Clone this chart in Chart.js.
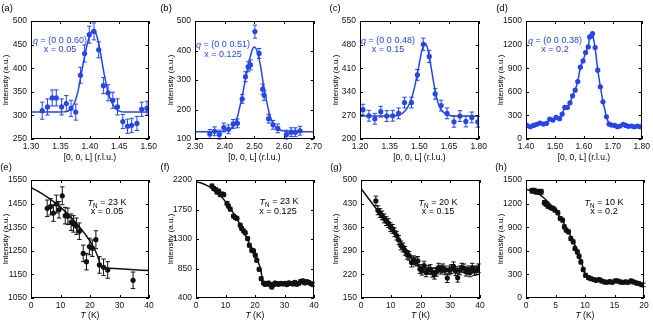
<!DOCTYPE html>
<html>
<head>
<meta charset="utf-8">
<script src="https://cdn.jsdelivr.net/npm/chart.js@4.4.1/dist/chart.umd.min.js"></script>
<style>
  body { margin: 0; background: #fff; width: 653px; height: 324px; overflow: hidden; position: relative; }
  canvas { position: absolute; }
</style>
</head>
<body>
<script>
// (a) x = 0.05, q = (0 0 0.60)
const aL = [1.319, 1.328, 1.336, 1.343, 1.352, 1.360, 1.368, 1.376, 1.384, 1.391, 1.399, 1.407, 1.415, 1.423, 1.431, 1.439, 1.447, 1.456, 1.464, 1.471, 1.480, 1.488, 1.497];
const aI = [310, 318, 337, 337, 318, 325, 315, 307, 385, 431, 471, 478, 439, 363, 348, 332, 318, 287, 277, 279, 283, 313, 315];
const aErr = [18, 17, 17, 17, 17, 17, 17, 17, 17, 18, 18, 18, 17, 17, 17, 17, 17, 15, 15, 15, 15, 15, 15];
const aFitL = [1.30, 1.35, 1.36, 1.365, 1.37, 1.375, 1.38, 1.385, 1.39, 1.395, 1.40, 1.405, 1.41, 1.415, 1.42, 1.425, 1.43, 1.435, 1.44, 1.445, 1.45, 1.46, 1.50];
const aFitI = [307, 307, 308, 311, 318, 330, 352, 385, 418, 448, 470, 481, 475, 452, 418, 383, 354, 334, 321, 313, 309, 307, 307];

// (b) x = 0.125, q = (0 0 0.51)
const bL = [2.350, 2.366, 2.382, 2.397, 2.413, 2.429, 2.443, 2.459, 2.470, 2.479, 2.487, 2.502, 2.516, 2.528, 2.533, 2.548, 2.563, 2.579, 2.608, 2.624, 2.638, 2.654];
const bI = [117, 126, 115, 139, 133, 151, 153, 236, 311, 345, 351, 464, 390, 269, 248, 169, 148, 136, 115, 123, 123, 128];
const bErr = [15, 15, 15, 15, 15, 15, 15, 15, 17, 17, 17, 22, 17, 17, 17, 15, 15, 15, 15, 15, 15, 15];
const bFitL = [2.30, 2.38, 2.40, 2.42, 2.43, 2.44, 2.45, 2.46, 2.47, 2.48, 2.49, 2.495, 2.50, 2.51, 2.52, 2.53, 2.54, 2.55, 2.56, 2.57, 2.58, 2.60, 2.62, 2.70];
const bFitI = [125, 125, 127, 135, 145, 165, 205, 250, 302, 352, 393, 408, 412, 395, 352, 288, 235, 188, 158, 142, 133, 127, 125, 125];

// (c) x = 0.15, q = (0 0 0.48)
const cL = [1.215, 1.245, 1.275, 1.305, 1.335, 1.365, 1.395, 1.425, 1.460, 1.490, 1.520, 1.550, 1.580, 1.610, 1.640, 1.675, 1.705, 1.735, 1.765, 1.795];
const cI = [287, 269, 260, 281, 268, 269, 276, 308, 308, 390, 481, 445, 334, 299, 276, 251, 268, 252, 264, 251];
const cErr = [16, 16, 16, 16, 16, 16, 16, 16, 16, 16, 18, 18, 16, 16, 16, 16, 16, 16, 16, 16];
const cFitL = [1.20, 1.38, 1.40, 1.42, 1.44, 1.46, 1.48, 1.50, 1.51, 1.52, 1.53, 1.54, 1.55, 1.56, 1.58, 1.60, 1.62, 1.64, 1.66, 1.80];
const cFitI = [268, 269, 272, 279, 293, 320, 365, 425, 455, 476, 483, 472, 445, 410, 342, 298, 280, 272, 269, 268];

// (d) x = 0.2, q = (0 0 0.38)
const dL = [1.403, 1.415, 1.426, 1.437, 1.448, 1.460, 1.471, 1.482, 1.493, 1.504, 1.516, 1.525, 1.534, 1.543, 1.552, 1.561, 1.570, 1.579, 1.588, 1.597, 1.606, 1.615, 1.620, 1.626, 1.630, 1.639, 1.648, 1.657, 1.666, 1.678, 1.687, 1.696, 1.707, 1.716, 1.725, 1.736, 1.745, 1.754, 1.765, 1.774, 1.785, 1.794];
const dI = [173, 156, 173, 186, 203, 190, 199, 253, 241, 275, 258, 317, 401, 401, 460, 549, 621, 731, 913, 993, 1098, 1170, 1297, 1310, 1340, 1162, 875, 663, 473, 283, 190, 177, 173, 156, 165, 186, 173, 161, 165, 156, 165, 156];

// (e) TN = 23 K, x = 0.05
const eT = [5.5, 6.6, 7.6, 8.6, 9.5, 10.6, 11.6, 12.5, 13.6, 14.4, 15.4, 16.4, 17.7, 18.8, 19.8, 20.8, 22.0, 23.2, 24.6, 26.0, 34.6];
const eI = [1430, 1437, 1410, 1448, 1424, 1483, 1399, 1396, 1371, 1364, 1354, 1333, 1239, 1204, 1268, 1261, 1297, 1190, 1180, 1169, 1125];
const eErr = [35, 35, 35, 38, 35, 38, 35, 35, 35, 35, 35, 35, 35, 35, 35, 35, 38, 35, 35, 35, 35];
const eFitT = [0, 5, 10, 15, 20, 22, 23, 23.5, 25, 30, 35, 40];
const eFitI = [1519, 1482, 1435, 1372, 1291, 1245, 1212, 1187, 1178, 1174, 1170, 1166];

// (f) TN = 23 K, x = 0.125
const fT = [5.4, 6.0, 6.6, 7.1, 7.7, 8.2, 8.9, 9.4, 10.5, 11.0, 11.6, 12.7, 13.3, 13.9, 15.0, 15.5, 16.1, 16.7, 17.5, 18.1, 18.9, 19.5, 20.1, 20.6, 21.4, 22.1, 22.9, 23.4, 24.0, 24.6, 25.1, 25.7, 26.3, 26.8, 27.4, 28.0, 28.8, 29.5, 30.2, 30.8, 31.5, 32.2, 32.9, 33.5, 34.2, 34.9, 35.5, 36.2, 36.9, 37.5, 38.2, 38.9, 39.6];
const fI = [2108, 2072, 2057, 2016, 2031, 1976, 1986, 1976, 1843, 1802, 1756, 1649, 1629, 1613, 1511, 1460, 1424, 1394, 1307, 1205, 1129, 1118, 1052, 976, 838, 695, 629, 608, 618, 629, 603, 567, 603, 629, 618, 610, 625, 615, 625, 605, 630, 620, 615, 640, 610, 625, 655, 660, 630, 650, 640, 620, 605];
const fErr = [30, 30, 28, 28, 28, 28, 28, 28, 28, 28, 28, 28, 28, 28, 28, 28, 28, 28, 28, 28, 28, 28, 28, 28, 28, 28, 25, 25, 25, 25, 25, 25, 25, 25, 25, 25, 25, 25, 25, 25, 25, 25, 25, 25, 25, 25, 25, 25, 25, 25, 25, 25, 25];
const fFitT = [0, 2, 4, 6, 8, 10, 12, 14, 16, 18, 20, 21, 22, 22.5, 23, 24, 30, 40];
const fFitI = [2175, 2150, 2110, 2055, 1975, 1870, 1745, 1595, 1425, 1240, 1065, 960, 820, 690, 635, 625, 625, 620];

// (g) TN = 20 K, x = 0.15
const gT = [5.0, 5.7, 6.4, 7.1, 7.8, 8.5, 9.2, 9.9, 10.6, 11.3, 12.0, 12.7, 13.4, 14.1, 14.8, 15.5, 16.2, 17.0, 17.7, 18.4, 19.1, 19.8, 20.5, 21.2, 21.9, 22.6, 23.3, 24.0, 24.7, 25.4, 26.1, 26.8, 27.5, 28.2, 29.0, 29.7, 30.4, 31.1, 31.8, 32.5, 33.2, 33.9, 34.6, 35.3, 36.0, 36.7, 37.4, 38.1, 38.8, 39.5];
const gI = [438, 410, 402, 395, 386, 378, 372, 360, 355, 345, 335, 322, 306, 300, 290, 278, 275, 255, 262, 258, 260, 236, 231, 246, 226, 233, 236, 225, 219, 228, 240, 234, 238, 232, 209, 232, 236, 244, 230, 210, 232, 240, 238, 228, 232, 226, 240, 230, 232, 238];
const gErr = [14, 13, 13, 13, 13, 13, 13, 13, 13, 13, 13, 13, 13, 13, 13, 13, 13, 13, 13, 13, 13, 13, 13, 13, 13, 13, 13, 13, 13, 13, 13, 13, 13, 13, 13, 13, 13, 13, 13, 13, 13, 13, 13, 13, 13, 13, 13, 13, 13, 13];
const gFitT = [0, 5, 10, 15, 18, 19.5, 20.5, 30, 40];
const gFitI = [475, 416, 357, 297, 261, 243, 238, 238, 238];

// (h) TN = 10 K, x = 0.2
const hT = [1.0, 1.4, 1.7, 2.1, 2.6, 3.1, 3.4, 3.7, 4.2, 4.6, 4.9, 5.4, 5.8, 6.2, 6.5, 6.8, 7.2, 7.6, 8.0, 8.3, 8.7, 9.0, 9.3, 9.7, 10.1, 10.6, 11.0, 11.5, 11.9, 12.4, 12.8, 13.3, 13.7, 14.2, 14.6, 15.1, 15.5, 16.0, 16.4, 16.9, 17.3, 17.8, 18.2, 18.7, 19.1, 19.6, 19.9];
const hI = [1364, 1364, 1351, 1351, 1351, 1211, 1194, 1169, 1147, 1139, 1118, 1084, 1011, 990, 905, 863, 841, 756, 714, 629, 586, 531, 459, 361, 289, 259, 246, 234, 225, 234, 217, 204, 200, 208, 200, 217, 217, 204, 200, 204, 200, 217, 204, 191, 183, 170, 166];
const hErr = [30, 30, 30, 30, 30, 28, 28, 28, 25, 25, 25, 25, 25, 25, 25, 25, 25, 25, 25, 25, 25, 25, 25, 25, 25, 22, 22, 22, 22, 22, 22, 22, 22, 22, 22, 22, 22, 22, 22, 22, 22, 22, 22, 22, 22, 22, 22];
const hFitT = [0, 1, 2, 3, 4, 5, 6, 7, 8, 9, 9.5, 10, 10.5, 11, 12, 14, 16, 18, 20];
const hFitI = [1380, 1365, 1330, 1275, 1200, 1110, 1000, 870, 720, 540, 430, 310, 255, 238, 222, 205, 205, 195, 165];

const FONT = "'Liberation Sans', Arial, sans-serif";
const BLUE = 'rgb(36,70,235)';
const BLACK = '#111';
Chart.defaults.font.family = FONT;

function pts(xs, ys) {
  return xs.map((x, i) => ({ x: x, y: ys[i] }));
}

// text made of pieces (italic letters, subscripts), centred on cx
function rich(ctx, parts, cx, cy, size, color) {
  let w = 0;
  const fontOf = p => (p.it ? 'italic ' : '') + (p.sub ? size * 0.7 : size) + 'px ' + FONT;
  parts.forEach(p => { ctx.font = fontOf(p); p.w = ctx.measureText(p.t).width; w += p.w; });
  let x = cx - w / 2;
  ctx.fillStyle = color;
  ctx.textBaseline = 'middle';
  ctx.textAlign = 'left';
  parts.forEach(p => {
    ctx.font = fontOf(p);
    ctx.fillText(p.t, x, cy + (p.sub ? size * 0.32 : 0));
    x += p.w;
  });
}

function marks(xs, ys, err, color) {
  return { data: pts(xs, ys), err: err, showLine: false, pointRadius: 2.6, pointHoverRadius: 2.6,
           pointBorderWidth: 0, pointBackgroundColor: color, borderColor: color, backgroundColor: color };
}
function fit(xs, ys, color) {
  return { data: pts(xs, ys), showLine: true, pointRadius: 0, borderWidth: 1.5, borderColor: color,
           cubicInterpolationMode: 'monotone', fill: false };
}

function makePanel(p) {
  const canvas = document.createElement('canvas');
  canvas.width = p.w; canvas.height = p.h;
  canvas.style.left = p.left + 'px'; canvas.style.top = p.top + 'px';
  document.body.appendChild(canvas);

  const frame = {
    id: 'frame',
    beforeDatasetsDraw(chart) {
      const ctx = chart.ctx, xs = chart.scales.x, ys = chart.scales.y;
      ctx.save();
      ctx.lineWidth = 1;
      chart.data.datasets.forEach(ds => {
        if (!ds.err) return;
        ctx.strokeStyle = ds.borderColor;
        ctx.beginPath();
        ds.data.forEach((d, i) => {
          const px = xs.getPixelForValue(d.x);
          const t = ys.getPixelForValue(d.y + ds.err[i]);
          const b = ys.getPixelForValue(d.y - ds.err[i]);
          ctx.moveTo(px, t); ctx.lineTo(px, b);
          ctx.moveTo(px - 2.2, t); ctx.lineTo(px + 2.2, t);
          ctx.moveTo(px - 2.2, b); ctx.lineTo(px + 2.2, b);
        });
        ctx.stroke();
      });
      ctx.restore();
    },
    afterDraw(chart) {
      const ctx = chart.ctx, a = chart.chartArea, xs = chart.scales.x, ys = chart.scales.y;
      ctx.save();
      ctx.strokeStyle = '#000';
      ctx.lineWidth = 1;
      ctx.strokeRect(Math.round(a.left) + 0.5, Math.round(a.top) + 0.5,
                     Math.round(a.right - a.left) - 1, Math.round(a.bottom - a.top) - 1);
      ctx.beginPath();
      xs.ticks.forEach(t => {
        const x = Math.round(xs.getPixelForValue(t.value)) + 0.5;
        ctx.moveTo(x, a.bottom); ctx.lineTo(x, a.bottom - 3);
        ctx.moveTo(x, a.top); ctx.lineTo(x, a.top + 3);
      });
      ys.ticks.forEach(t => {
        const y = Math.round(ys.getPixelForValue(t.value)) + 0.5;
        ctx.moveTo(a.left, y); ctx.lineTo(a.left + 3, y);
        ctx.moveTo(a.right, y); ctx.lineTo(a.right - 3, y);
      });
      ctx.stroke();
      // panel letter
      rich(ctx, [{ t: p.letter }], p.letX - p.left, p.letY - p.top, 9.5, '#000');
      // x-axis title
      rich(ctx, p.xTitle, (a.left + a.right) / 2, p.xTitleY - p.top, 8.5, '#000');
      // notes inside the frame
      p.notes.forEach(n => rich(ctx, n.parts, n.cx - p.left, n.cy - p.top, 9, p.noteColor));
      ctx.restore();
    }
  };

  const tickFont = { size: 8.5, family: FONT };
  new Chart(canvas, {
    type: 'scatter',
    data: { datasets: p.datasets },
    options: {
      responsive: false,
      animation: false,
      events: [],
      layout: { padding: { top: p.plotT - p.top, right: p.left + p.w - p.plotR, left: 0, bottom: 0 } },
      plugins: { legend: { display: false }, tooltip: { enabled: false } },
      scales: {
        x: {
          type: 'linear', min: p.x[0], max: p.x[1],
          ticks: { stepSize: p.x[2], color: '#111', font: tickFont, padding: 3, maxRotation: 0,
                   callback: v => v.toFixed(p.x[3]) },
          grid: { display: false, drawTicks: false },
          border: { display: false },
          afterFit: s => { s.height = p.top + p.h - p.plotB; }
        },
        y: {
          type: 'linear', min: p.y[0], max: p.y[1],
          ticks: { stepSize: p.y[2], color: '#111', font: tickFont, padding: 4,
                   callback: v => String(v) },
          grid: { display: false, drawTicks: false },
          border: { display: false },
          title: { display: true, text: 'Intensity (a.u.)', color: '#000',
                   font: { size: 8, family: FONT }, padding: { top: p.yTitlePad, bottom: 0 } },
          afterFit: s => { s.width = p.plotL - p.left; }
        }
      }
    },
    plugins: [frame]
  });
}

const qTitle = [{ t: '[0, 0, L] (r.l.u.)' }];
const tTitle = [{ t: 'T', it: true }, { t: ' (K)' }];
const qNote = (s) => [{ t: 'q', it: true }, { t: ' = (' + s + ')' }];
const tnNote = (s) => [{ t: 'T', it: true }, { t: 'N', sub: true }, { t: ' = ' + s + ' K' }];

const topRow = { top: 0, h: 166, plotT: 21, plotB: 139, xTitle: qTitle, xTitleY: 158, noteColor: BLUE, letY: 8 };
const botRow = { top: 160, h: 164, plotT: 180, plotB: 298, xTitle: tTitle, xTitleY: 316, noteColor: '#000', letY: 167 };

makePanel(Object.assign({}, topRow, {
  left: 0, w: 160, plotL: 31, plotR: 149, yTitlePad: 1, letter: '(a)', letX: 7,
  x: [1.30, 1.50, 0.05, 2], y: [250, 500, 50],
  datasets: [marks(aL, aI, aErr, BLUE), fit(aFitL, aFitI, BLUE)],
  notes: [{ parts: qNote('0 0 0.60'), cx: 60, cy: 41 }, { parts: [{ t: 'x = 0.05' }], cx: 60, cy: 50 }]
}));
makePanel(Object.assign({}, topRow, {
  left: 160, w: 165, plotL: 195, plotR: 314, yTitlePad: 6, letter: '(b)', letX: 166,
  x: [2.30, 2.70, 0.1, 2], y: [100, 500, 100],
  datasets: [marks(bL, bI, bErr, BLUE), fit(bFitL, bFitI, BLUE)],
  notes: [{ parts: qNote('0 0 0.51'), cx: 223, cy: 45 }, { parts: [{ t: 'x = 0.125' }], cx: 223, cy: 55 }]
}));
makePanel(Object.assign({}, topRow, {
  left: 325, w: 165, plotL: 360, plotR: 479, yTitlePad: 6, letter: '(c)', letX: 335,
  x: [1.20, 1.80, 0.15, 2], y: [200, 550, 70],
  datasets: [marks(cL, cI, cErr, BLUE), fit(cFitL, cFitI, BLUE)],
  notes: [{ parts: qNote('0 0 0.48'), cx: 388, cy: 41 }, { parts: [{ t: 'x = 0.15' }], cx: 388, cy: 50 }]
}));
makePanel(Object.assign({}, topRow, {
  left: 490, w: 163, plotL: 526, plotR: 644, yTitlePad: 6, letter: '(d)', letX: 502,
  x: [1.40, 1.80, 0.1, 2], y: [0, 1500, 300],
  datasets: [{ data: pts(dL, dI), showLine: true, pointRadius: 2.6, pointBorderWidth: 0,
               pointBackgroundColor: BLUE, borderColor: BLUE, borderWidth: 1.5, tension: 0 }],
  notes: [{ parts: qNote('0 0 0.38'), cx: 555, cy: 41 }, { parts: [{ t: 'x = 0.2' }], cx: 555, cy: 50 }]
}));

makePanel(Object.assign({}, botRow, {
  left: 0, w: 160, plotL: 31, plotR: 149, yTitlePad: 1, letter: '(e)', letX: 6,
  x: [0, 40, 10, 0], y: [1050, 1550, 100],
  datasets: [marks(eT, eI, eErr, BLACK), fit(eFitT, eFitI, BLACK)],
  notes: [{ parts: tnNote('23'), cx: 107, cy: 203 }, { parts: [{ t: 'x = 0.05' }], cx: 107, cy: 212 }]
}));
makePanel(Object.assign({}, botRow, {
  left: 160, w: 165, plotL: 196, plotR: 314, yTitlePad: 6, letter: '(f)', letX: 165,
  x: [0, 40, 10, 0], y: [400, 2200, 450],
  datasets: [marks(fT, fI, fErr, BLACK), fit(fFitT, fFitI, BLACK)],
  notes: [{ parts: tnNote('23'), cx: 279, cy: 202 }, { parts: [{ t: 'x = 0.125' }], cx: 278, cy: 212 }]
}));
makePanel(Object.assign({}, botRow, {
  left: 325, w: 165, plotL: 361, plotR: 480, yTitlePad: 6, letter: '(g)', letX: 336,
  x: [0, 40, 10, 0], y: [150, 500, 70],
  datasets: [marks(gT, gI, gErr, BLACK), fit(gFitT, gFitI, BLACK)],
  notes: [{ parts: tnNote('20'), cx: 438, cy: 203 }, { parts: [{ t: 'x = 0.15' }], cx: 438, cy: 212 }]
}));
makePanel(Object.assign({}, botRow, {
  left: 490, w: 163, plotL: 526, plotR: 644, yTitlePad: 6, letter: '(h)', letX: 501,
  x: [0, 20, 5, 0], y: [0, 1500, 300],
  datasets: [marks(hT, hI, hErr, BLACK), fit(hFitT, hFitI, BLACK)],
  notes: [{ parts: tnNote('10'), cx: 604, cy: 203 }, { parts: [{ t: 'x = 0.2' }], cx: 604, cy: 212 }]
}));
</script>
</body>
</html>
